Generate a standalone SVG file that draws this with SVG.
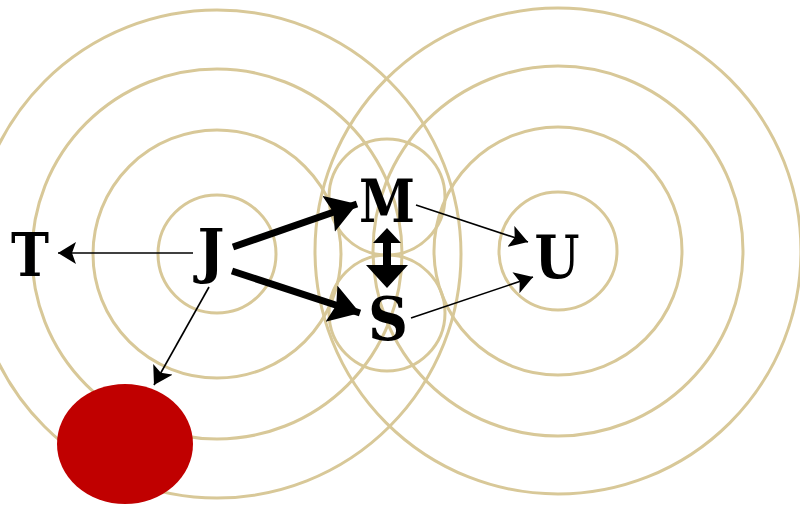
<svg xmlns="http://www.w3.org/2000/svg" width="800" height="505" viewBox="0 0 800 505">
  <style>
    .ring { fill: none; stroke: #D8C898; stroke-width: 3; }
    .lbl { font-family: "DejaVu Serif", "Liberation Serif", serif; font-weight: bold; font-size: 60px; fill: #000; text-anchor: middle; }
    .thin { stroke: #000; stroke-width: 1.6; fill: none; }
    .thick { stroke: #000; stroke-width: 7; fill: none; }
  </style>
  <defs>
    <marker id="hThin" markerUnits="userSpaceOnUse" markerWidth="20" markerHeight="24" refX="18" refY="11" orient="auto">
      <path d="M0,0 L18,11 L0,22 L4,11 Z" fill="#000"/>
    </marker>
    <marker id="hThick" markerUnits="userSpaceOnUse" markerWidth="34" markerHeight="40" refX="30" refY="19" orient="auto">
      <path d="M0,0 L30,19 L0,38 L5,19 Z" fill="#000"/>
    </marker>
  </defs>
  <rect width="800" height="505" fill="#fff"/>
  <g id="rings">
    <circle class="ring" cx="217" cy="254" r="59"/>
    <circle class="ring" cx="217" cy="254" r="124"/>
    <circle class="ring" cx="217" cy="254" r="185"/>
    <circle class="ring" cx="217" cy="254" r="244"/>
    <circle class="ring" cx="558" cy="251" r="59"/>
    <circle class="ring" cx="558" cy="251" r="124"/>
    <circle class="ring" cx="558" cy="251" r="185"/>
    <circle class="ring" cx="558" cy="251" r="243"/>
    <circle class="ring" cx="387" cy="197" r="58"/>
    <circle class="ring" cx="387" cy="313" r="58"/>
  </g>
  <g id="connectors">
    <line class="thin" x1="193" y1="253" x2="58" y2="253" marker-end="url(#hThin)"/>
    <line class="thick" x1="233" y1="247" x2="357" y2="204" marker-end="url(#hThick)"/>
    <line class="thick" x1="232" y1="271" x2="360" y2="313" marker-end="url(#hThick)"/>
    <path d="M387,228 L401,243 L391,243 L391,265 L408,265 L387,288 L366,265 L383,265 L383,243 L373,243 Z" fill="#000"/>
    <line class="thin" x1="416" y1="205" x2="528" y2="242" marker-end="url(#hThin)"/>
    <line class="thin" x1="411" y1="318" x2="533" y2="277" marker-end="url(#hThin)"/>
    <line class="thin" x1="209" y1="287" x2="154" y2="385" marker-end="url(#hThin)"/>
  </g>
  <g id="node-T"><text class="lbl" x="30" y="276" textLength="38" lengthAdjust="spacingAndGlyphs">T</text></g>
  <g id="node-J"><text class="lbl" x="211" y="272" textLength="27" lengthAdjust="spacingAndGlyphs">J</text></g>
  <g id="node-M"><text class="lbl" x="387" y="222" textLength="56" lengthAdjust="spacingAndGlyphs">M</text></g>
  <g id="node-S"><text class="lbl" x="388" y="340" textLength="40" lengthAdjust="spacingAndGlyphs">S</text></g>
  <g id="node-U"><text class="lbl" x="557" y="278" textLength="45" lengthAdjust="spacingAndGlyphs">U</text></g>
  <g id="node-red"><ellipse cx="125" cy="444" rx="68" ry="60" fill="#C00000"/></g>
</svg>
